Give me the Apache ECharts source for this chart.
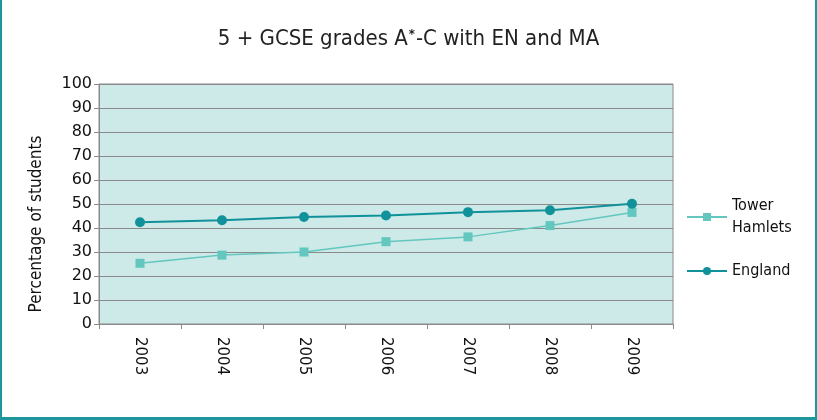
<!DOCTYPE html>
<html>
<head>
<meta charset="utf-8">
<script src="https://cdn.jsdelivr.net/npm/echarts@6/dist/echarts.min.js"></script>
<style>
  html, body { margin: 0; padding: 0; background: #fff; }
  #chart {
    width: 817px; height: 420px; box-sizing: border-box;
    border-left: 2px solid #1b979d; border-right: 2px solid #1b979d; border-bottom: 3px solid #1b979d;
  }
</style>
</head>
<body>
<div id="chart"></div>
<script>
// values
var years = ['2003', '2004', '2005', '2006', '2007', '2008', '2009'];
var towerHamlets = [25.3, 28.7, 30.0, 34.3, 36.3, 41.0, 46.5];
var england = [42.4, 43.2, 44.6, 45.2, 46.6, 47.4, 50.1];

var condensed = '"DejaVu Sans Condensed", "Liberation Sans Narrow", sans-serif';

var myChart = echarts.init(document.getElementById('chart'), null, { renderer: 'canvas' });
var option = {
    animation: false,
    title: {
        text: '{t|5 + GCSE grades A}{s|*}{t|-C with EN and MA}',
        left: 'center',
        top: 23,
        textStyle: {
            rich: {
                t: { fontFamily: condensed, fontSize: 22, color: '#222', fontWeight: 'normal' },
                s: { fontFamily: condensed, fontSize: 13, color: '#222', verticalAlign: 'top', padding: [0, 1, 10, 1] }
            }
        }
    },
    grid: {
        left: 97, right: 142, top: 84, bottom: 93,
        show: true,
        backgroundColor: '#cdeae8',
        borderColor: '#8a8a8a',
        borderWidth: 1
    },
    legend: [{
        orient: 'vertical',
        left: 684,
        top: 184,
        padding: 0,
        itemWidth: 40,
        itemHeight: 10,
        itemGap: 0,
        data: ['Tower\nHamlets'],
        textStyle: { fontFamily: condensed, fontSize: 16, color: '#111', lineHeight: 22, padding: [22, 0, 0, 0] }
    }, {
        orient: 'vertical',
        left: 684,
        top: 260,
        padding: 0,
        itemWidth: 40,
        itemHeight: 10,
        data: ['England'],
        textStyle: { fontFamily: condensed, fontSize: 16, color: '#111', lineHeight: 22 }
    }],
    xAxis: {
        type: 'category',
        data: years,
        boundaryGap: true,
        axisLine: { lineStyle: { color: '#8a8a8a', width: 1 } },
        axisTick: { show: true, alignWithLabel: false, length: 5, lineStyle: { color: '#8a8a8a' } },
        axisLabel: { rotate: -90, margin: 13, fontFamily: 'DejaVu Sans', fontSize: 15, color: '#111' }
    },
    yAxis: {
        type: 'value',
        min: 0,
        max: 100,
        interval: 10,
        name: 'Percentage of students',
        nameLocation: 'middle',
        nameGap: 54,
        nameTextStyle: { fontFamily: condensed, fontSize: 17, color: '#111', padding: [0, 40, 0, 0] },
        axisLine: { show: true, lineStyle: { color: '#8a8a8a' } },
        axisTick: { show: true, length: 5, lineStyle: { color: '#8a8a8a' } },
        axisLabel: { margin: 7, fontFamily: 'DejaVu Sans', fontSize: 16, color: '#111' },
        splitLine: { lineStyle: { color: '#8a8a8a', width: 1 } }
    },
    series: [{
        name: 'Tower\nHamlets',
        type: 'line',
        data: towerHamlets,
        symbol: 'rect',
        symbolSize: 9,
        color: '#63c7bf',
        lineStyle: { width: 1.5, color: '#63c7bf' },
        itemStyle: { color: '#63c7bf' }
    }, {
        name: 'England',
        type: 'line',
        data: england,
        symbol: 'circle',
        symbolSize: 10,
        color: '#11929a',
        lineStyle: { width: 2, color: '#11929a' },
        itemStyle: { color: '#11929a' }
    }]
};
myChart.setOption(option);
window.addEventListener('resize', () => { myChart.resize(); });
</script>
</body>
</html>
